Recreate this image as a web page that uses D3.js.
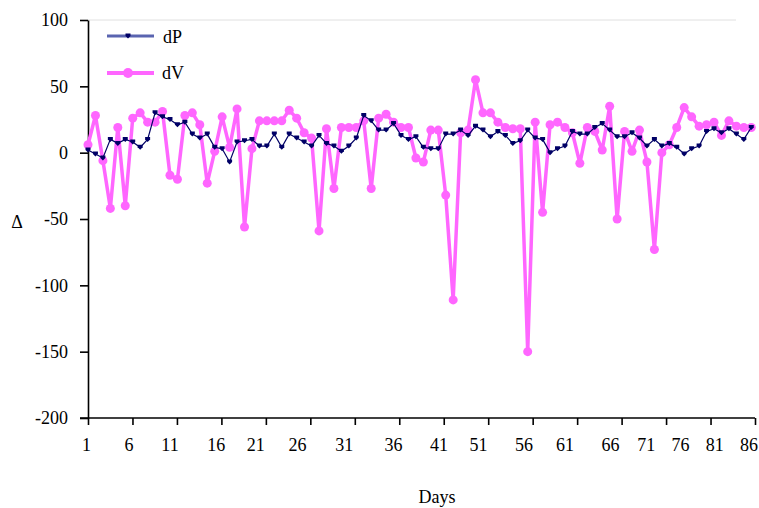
<!DOCTYPE html>
<html>
<head>
<meta charset="utf-8">
<script src="https://cdn.jsdelivr.net/npm/d3@7"></script>
<style>
  body { margin: 0; background: #fff; }
  text { font-family: "Liberation Serif", "Times New Roman", serif; font-size: 18px; fill: #000; }
</style>
</head>
<body>
<svg id="chart" width="759" height="508"></svg>
<script>
// values, one per day
var dP = [2, -1, -4, 10, 7, 10, 8, 4, 10, 30,
          27, 25, 21, 23, 14, 11, 14, 4, 3, -7,
          8, 9, 10, 5, 5, 14, 4, 14, 11, 8,
          5, 13, 7, 5, 1, 5, 11, 28, 24, 17,
          17, 22, 13, 10, 12, 4, 3, 3, 14, 14,
          17, 13, 20, 17, 12, 16, 13, 7, 9, 17,
          11, 10, 0, 3, 5, 16, 14, 14, 19, 22,
          17, 12, 12, 15, 11, 5, 10, 5, 7, 4,
          -1, 3, 5, 16, 18, 15, 18, 14, 10, 19];
var dV = [6, 28, -6, -42, 19, -40, 26, 30, 23, 23,
          31, -17, -20, 28, 30, 21, -23, 1, 27, 4,
          33, -56, 3, 24, 24, 24, 24, 32, 26, 15,
          11, -59, 18, -27, 19, 19, 19, 24, -27, 26,
          29, 23, 19, 19, -4, -7, 17, 17, -32, -111,
          15, 17, 55, 30, 30, 23, 19, 18, 18, -150,
          23, -45, 21, 23, 19, 15, -8, 19, 16, 2,
          35, -50, 16, 1, 17, -7, -73, 0, 6, 19,
          34, 27, 20, 21, 23, 13, 24, 20, 19, 19];
var yTicks = [100, 50, 0, -50, -100, -150, -200];
var xTickLabels = ["1", "6", "11", "16", "21", "26", "31", "36", "41", "51", "56", "61", "66", "71", "76", "81", "86"];
// where each label sits, in point index units (the labels are not evenly spread)
var xLabelAt = [-0.2, 5.5, 11.0, 17.2, 22.5, 28.1, 34.4, 41.0, 47.1, 52.4, 58.5, 64.0, 70.1, 74.9, 79.5, 84.1, 88.7];
var seriesNames = ["dP", "dV"];

var svg = d3.select("#chart");
var x = d3.scaleLinear().domain([0, 89.5]).range([88, 755]);
var y = d3.scaleLinear().domain([-200, 100]).range([418, 20]);

var navy = "#000066", pink = "#ff66ff";
var pMarker = "M-2.5,-2.5h5v2.5l-2.5,2.5l-2.5,-2.5z";

// light frame line along the top
svg.append("line")
   .attr("x1", x(0)).attr("x2", 736)
   .attr("y1", y(100)).attr("y2", y(100))
   .attr("stroke", "#e0e0e0").attr("stroke-width", 1);

// y axis
var yAxis = svg.append("g")
   .attr("transform", "translate(" + x(0) + ",0)")
   .call(d3.axisLeft(y).tickValues(yTicks).tickSize(8).tickSizeOuter(0).tickPadding(12)
           .tickFormat(function(d){ return String(d); }));
yAxis.attr("font-size", null).attr("font-family", null);
yAxis.selectAll("path,line").attr("stroke", "#000").attr("stroke-width", 1.6);

// x axis: line and evenly spread ticks, labels placed separately
var xTickPos = d3.range(16).map(function(i){ return i * 89.5 / 15; });
var xAxis = svg.append("g")
   .attr("transform", "translate(0," + y(-200) + ")")
   .call(d3.axisBottom(x).tickValues(xTickPos).tickSize(7).tickSizeOuter(0).tickFormat(""));
xAxis.select(".domain").remove();
xAxis.selectAll("line").attr("stroke", "#000").attr("stroke-width", 1.6);
xAxis.append("line")
     .attr("x1", 80).attr("x2", x(89.5))
     .attr("stroke", "#000").attr("stroke-width", 1.6);

svg.append("g").selectAll("text")
   .data(xTickLabels)
   .enter()
   .append("text")
   .attr("x", function(d, i){ return x(xLabelAt[i]); })
   .attr("y", 451)
   .attr("text-anchor", "middle")
   .text(function(d){ return d; });

svg.append("text").attr("x", 437).attr("y", 503).attr("text-anchor", "middle").text("Days");
svg.append("text").attr("x", 17).attr("y", 228).attr("text-anchor", "middle").text("\u0394");

var line = d3.line()
   .x(function(d, i){ return x(i); })
   .y(function(d){ return y(d); });

// dV below, dP on top
svg.append("path").datum(dV)
   .attr("d", line).attr("fill", "none")
   .attr("stroke", pink).attr("stroke-width", 3.5).attr("stroke-linejoin", "round");
svg.append("g").selectAll("circle")
   .data(dV).enter().append("circle")
   .attr("cx", function(d, i){ return x(i); })
   .attr("cy", function(d){ return y(d); })
   .attr("r", 4.5).attr("fill", pink);

svg.append("path").datum(dP)
   .attr("d", line).attr("fill", "none")
   .attr("stroke", navy).attr("stroke-width", 1.2);
svg.append("g").selectAll("path")
   .data(dP).enter().append("path")
   .attr("d", pMarker)
   .attr("transform", function(d, i){ return "translate(" + x(i) + "," + y(d) + ")"; })
   .attr("fill", navy);

// legend
var legend = svg.append("g");
legend.append("line").attr("x1", 107).attr("x2", 154).attr("y1", 36).attr("y2", 36)
      .attr("stroke", "#5a64b0").attr("stroke-width", 3);
legend.append("path").attr("d", pMarker).attr("transform", "translate(128,36)").attr("fill", navy);
legend.append("text").attr("x", 163).attr("y", 43).text(seriesNames[0]);

legend.append("line").attr("x1", 107).attr("x2", 154).attr("y1", 73).attr("y2", 73)
      .attr("stroke", pink).attr("stroke-width", 4);
legend.append("circle").attr("cx", 128).attr("cy", 73).attr("r", 5).attr("fill", pink);
legend.append("text").attr("x", 162).attr("y", 79).text(seriesNames[1]);
</script>
</body>
</html>
